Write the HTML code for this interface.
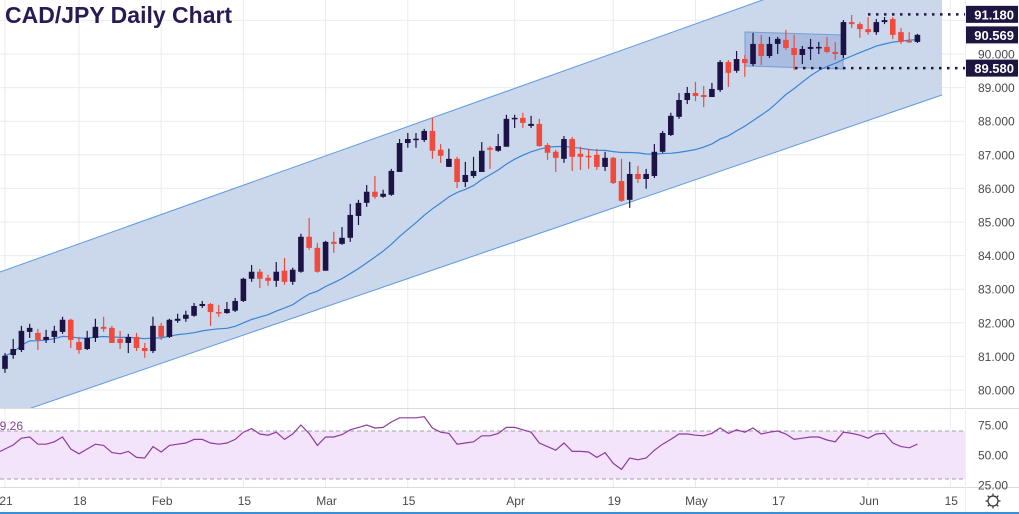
<!DOCTYPE html>
<html><head><meta charset="utf-8"><style>
html,body{margin:0;padding:0;background:#fff;}
svg{display:block;font-family:"Liberation Sans",sans-serif;}
</style></head><body>
<svg id="chart" width="1019" height="514" viewBox="0 0 1019 514" xmlns="http://www.w3.org/2000/svg"></svg>
<script>
const opens=[80.63,81.04,81.19,81.73,81.70,81.49,81.58,81.73,82.09,81.43,81.22,81.55,81.88,81.85,81.52,81.40,81.58,81.25,81.16,81.91,81.58,82.06,82.12,82.21,82.50,82.56,82.32,82.29,82.36,82.65,83.31,83.52,83.34,83.25,83.55,83.22,83.52,84.56,84.23,83.55,84.41,84.35,84.53,85.18,85.57,85.90,85.75,85.81,86.49,87.35,87.46,87.44,87.71,87.15,86.64,86.88,86.19,86.37,86.49,87.21,87.12,87.24,88.09,88.10,87.86,87.92,87.29,87.09,86.88,87.47,87.03,86.97,87.00,86.64,86.91,86.22,85.66,86.43,86.28,86.37,87.09,87.59,88.13,88.63,88.84,88.78,88.72,88.93,89.76,89.50,89.85,89.70,90.30,89.94,90.30,90.42,90.18,89.97,90.15,90.18,90.21,90.06,89.97,90.95,90.89,90.74,90.65,90.95,91.04,90.65,90.39,90.36];
const highs=[81.10,81.52,81.91,81.97,81.82,81.79,81.91,82.18,82.12,81.58,81.76,82.12,82.18,81.91,81.76,81.67,81.70,81.40,82.18,82.00,82.12,82.27,82.36,82.59,82.65,82.59,82.53,82.62,82.74,83.34,83.72,83.60,83.43,83.81,83.93,83.64,84.65,85.12,84.38,84.44,84.71,84.85,85.54,85.66,86.10,86.37,85.96,86.58,87.47,87.65,87.65,87.77,88.10,87.32,87.18,86.94,86.79,86.94,87.38,87.26,87.62,88.19,88.19,88.25,88.16,88.07,87.35,87.15,87.56,87.53,87.24,87.18,87.18,87.09,86.94,86.88,86.79,86.67,86.58,87.32,87.71,88.25,88.84,89.02,89.17,89.05,89.14,89.82,89.82,90.09,89.97,90.63,90.57,90.51,90.51,90.72,90.57,90.24,90.45,90.36,90.51,90.36,91.01,91.16,90.95,91.10,91.04,91.10,91.10,90.77,90.65,90.60];
const lows=[80.51,80.93,81.13,81.55,81.19,81.40,81.40,81.67,81.25,81.08,81.19,81.43,81.73,81.40,81.22,81.10,81.16,80.96,81.10,81.49,81.55,82.00,82.03,82.18,82.44,81.91,82.18,82.27,82.32,82.62,83.22,83.04,83.10,83.07,83.13,83.13,83.49,84.17,83.49,83.55,84.08,84.32,84.41,84.91,85.45,85.69,85.72,85.78,86.49,87.21,87.21,87.38,86.88,86.76,86.64,86.01,86.04,86.31,86.49,86.58,87.09,87.24,87.80,87.80,87.80,87.24,86.85,86.49,86.76,86.52,86.55,86.58,86.55,86.52,86.13,85.60,85.42,86.16,85.99,86.31,87.06,87.56,88.07,88.51,88.60,88.42,88.72,88.87,89.02,89.44,89.32,89.64,89.67,89.88,90.00,90.12,89.52,89.70,89.82,90.00,90.03,89.82,89.88,90.77,90.48,90.57,90.57,90.89,90.45,90.30,90.33,90.33];
const closes=[81.02,81.22,81.76,81.85,81.49,81.58,81.76,82.09,81.49,81.19,81.55,81.88,81.82,81.40,81.40,81.58,81.25,81.16,81.91,81.58,82.09,82.12,82.24,82.50,82.56,82.32,82.29,82.41,82.65,83.31,83.52,83.31,83.25,83.52,83.22,83.58,84.56,84.23,83.52,84.41,84.35,84.53,85.21,85.57,85.90,85.75,85.84,86.52,87.35,87.47,87.48,87.71,87.12,86.97,86.88,86.19,86.40,86.52,87.12,87.15,87.26,88.07,88.10,87.95,87.92,87.26,87.06,86.91,87.47,86.94,86.94,86.94,86.64,86.91,86.16,85.63,86.43,86.28,86.43,87.09,87.65,88.16,88.63,88.84,88.75,88.72,88.96,89.76,89.44,89.85,89.73,90.30,89.94,90.30,90.45,90.18,89.97,90.15,90.21,90.21,90.06,90.00,90.95,90.89,90.74,90.65,90.95,91.01,90.57,90.36,90.36,90.57];
const rsiValues=[55,58.3,64,65,59,59,61,65,55,51,55,59,58,52,51,53,48,47.5,57,52.5,58,59,60,63,63,60,59,60,63,69,72,67.5,66.5,69,63,67.5,75,68,58,65,65,67,71,73,75,72.5,73,77.5,81,81,81,82,72.5,69,68,59,60,61,66,66,68,73,73,71,69,60,57,54,60,53,53,52.5,48,52,43,38,47.5,46,47.5,54,59,63,67.5,67.5,66.5,66,68,72.5,68,71,69,72.5,67.5,69,70,67.5,63,64,65,65,62.5,61,69,68,66.5,64,67.5,68,60,57,56,59];
const priceTicks=[80,81,82,83,84,85,86,87,88,89,90,91];
const priceTickLabels=["80.000","81.000","82.000","83.000","84.000","85.000","86.000","87.000","88.000","89.000","90.000",""];
const dateLabels=["21","18","Feb","15","Mar","15","Apr","19","May","17","Jun","15"];
const dateIndex=[0,9,19,29,39,49,62,74,84,94,105,115];
const rsiTicks=[25,50,75];
const markedLevels=[91.18,90.569,89.58];
const NS="http://www.w3.org/2000/svg";
const svg=document.getElementById('chart');
function yP(p){return 54+(90-p)*33.6;}
function xI(i){return 5+8.22*i;}
function yR(r){return 455-(r-50)*1.2;}
function mk(tag,attrs,parent){const e=document.createElementNS(NS,tag);for(const k in attrs)e.setAttribute(k,attrs[k]);(parent||svg).appendChild(e);return e;}
const defs=mk('defs',{});
const cp=mk('clipPath',{id:'pp'},defs);mk('rect',{x:0,y:0,width:965,height:408},cp);
for(let k=0;k<priceTicks.length;k++){const g=mk('line',{x1:0,x2:965,y1:yP(priceTicks[k]),y2:yP(priceTicks[k]),stroke:'#e8ebf0','stroke-width':1});

}
for(let k=0;k<dateIndex.length;k++){const g=mk('line',{x1:xI(dateIndex[k]),x2:xI(dateIndex[k]),y1:0,y2:487,stroke:'#e8ebf0','stroke-width':1});

}
const pg=mk('g',{'clip-path':'url(#pp)'});
const ch=mk('polygon',{points:'0,272 942,-64 942,95 -120,460',fill:'#c8d5ea',opacity:0.95},pg);


const ul=mk('line',{x1:0,y1:272,x2:942,y2:-64,stroke:'#5d9be0','stroke-width':1},pg);


const ll=mk('line',{x1:-120,y1:460,x2:942,y2:95,stroke:'#5d9be0','stroke-width':1},pg);


const rc=mk('polygon',{points:'745,32 843,35 843,69 745,66',fill:'#a7bbe0',stroke:'#6f97d6','stroke-width':1,opacity:0.9},pg);


let pts=[];
for(let i=0;i<closes.length;i++){const s=Math.max(0,i-19);let sum=0;for(let j=s;j<=i;j++)sum+=closes[j];pts.push(xI(i).toFixed(1)+','+yP(sum/(i-s+1)).toFixed(1));}
const ma=mk('polyline',{points:pts.join(' '),fill:'none',stroke:'#3b84d6','stroke-width':1.2},pg);


for(let i=0;i<closes.length;i++){
 const up=closes[i]>=opens[i];const c=up?'#1d1245':'#ef4a3b';const x=xI(i);
 const g=mk('g',{},pg);
 
 
 mk('line',{x1:x,x2:x,y1:yP(highs[i]),y2:yP(lows[i]),stroke:c,'stroke-width':1.2},g);
 const t=yP(Math.max(opens[i],closes[i])),b=yP(Math.min(opens[i],closes[i]));
 mk('rect',{x:x-2.8,y:t,width:5.6,height:Math.max(1.5,b-t),fill:c},g);
}
const d1=mk('line',{x1:868,x2:965,y1:yP(markedLevels[0]),y2:yP(markedLevels[0]),stroke:'#1e1541','stroke-width':2.5,'stroke-dasharray':'2.5 5.5'});


const d2=mk('line',{x1:795,x2:965,y1:yP(markedLevels[2]),y2:yP(markedLevels[2]),stroke:'#1e1541','stroke-width':2.5,'stroke-dasharray':'2.5 5.5'});


mk('line',{x1:0,x2:1019,y1:408.5,y2:408.5,stroke:'#d9dde3'});
mk('line',{x1:0,x2:1019,y1:487.5,y2:487.5,stroke:'#d9dde3'});
mk('line',{x1:965.5,x2:965.5,y1:0,y2:514,stroke:'#eef0f3'});
for(let k=0;k<priceTicks.length;k++){const t=mk('text',{x:978,y:yP(priceTicks[k])+4.5,'font-size':12,fill:'#4a4a4a'});t.textContent=priceTickLabels[k];

}
for(let k=0;k<markedLevels.length;k++){const g=mk('g',{});


const y=yP(markedLevels[k]);mk('rect',{x:966,y:y-8.5,width:52,height:17,fill:'#1e1541'},g);
const t=mk('text',{x:1014,y:y+5,'font-size':13,'font-weight':'bold',fill:'#fff','text-anchor':'end'},g);t.textContent=markedLevels[k].toFixed(3);}
const ti=mk('text',{x:5,y:23,'font-size':23,'font-weight':'bold',fill:'#2a1a52'});ti.textContent='CAD/JPY Daily Chart';


const rb=mk('rect',{x:0,y:yR(70),width:965,height:yR(30)-yR(70),fill:'#f3e4fc'});


[70,30].forEach(v=>{const l=mk('line',{x1:0,x2:965,y1:yR(v),y2:yR(v),stroke:'#a0a0a8','stroke-dasharray':'4 3'});

});
let rp=['0,'+yR(rsiValues[0]-2).toFixed(1)];
for(let i=0;i<rsiValues.length;i++)rp.push(xI(i).toFixed(1)+','+yR(rsiValues[i]).toFixed(1));
const rl=mk('polyline',{points:rp.join(' '),fill:'none',stroke:'#8e3c9e','stroke-width':1.2});


const rv=mk('text',{x:-7,y:430,'font-size':12,fill:'#8e3c9e'});rv.textContent='69.26';


for(let k=0;k<rsiTicks.length;k++){const t=mk('text',{x:978,y:yR(rsiTicks[k])+4.5,'font-size':12,fill:'#4a4a4a'});t.textContent=rsiTicks[k].toFixed(2);

}
for(let k=0;k<dateLabels.length;k++){const t=mk('text',{x:xI(dateIndex[k])+1,y:505,'font-size':12,fill:'#4a4a4a','text-anchor':'middle'});t.textContent=dateLabels[k];

}
const gi=mk('g',{stroke:'#333','stroke-width':1.2,fill:'none'});


mk('circle',{cx:993,cy:501,r:5},gi);
for(let a=0;a<8;a++){const an=a*Math.PI/4;mk('line',{x1:993+5*Math.cos(an),y1:501+5*Math.sin(an),x2:993+7.5*Math.cos(an),y2:501+7.5*Math.sin(an)},gi);}
mk('rect',{x:0,y:512,width:1019,height:2,fill:'#3a90d8'});
</script>
</body></html>
